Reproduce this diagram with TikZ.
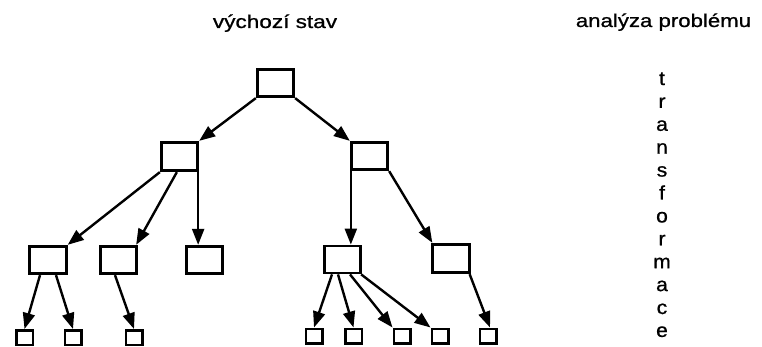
\documentclass[tikz,border=0pt]{standalone}
\usepackage{fontspec}
\setmainfont{Liberation Sans}
\newfontfamily\titlefont[FakeBold=0.8]{Liberation Sans}
\usetikzlibrary{arrows.meta}
\begin{document}
\begin{tikzpicture}[x=1pt,y=-1pt,
  box/.style={draw,line width=2.8pt,rectangle,minimum width=36.5pt,minimum height=27.5pt,inner sep=0pt},
  leaf/.style={draw,line width=2.5pt,rectangle,minimum width=16.5pt,minimum height=14.5pt,inner sep=0pt},
  arr/.style={line width=2.4pt,-{Triangle[length=16pt,width=12pt]}},
  lbl/.style={font=\titlefont\fontsize{18.5}{20}\selectfont,inner sep=0pt,anchor=base},
  vl/.style={font=\titlefont\fontsize{19.5}{21}\selectfont,inner sep=0pt,anchor=base}]
\useasboundingbox (0,0) rectangle (762,347);
% titles
\node[lbl] (t1) at (275,28) {\scalebox{1.22}[1]{výchozí stav}};
\node[lbl] (t2) at (663.5,27) {\scalebox{1.2}[1]{analýza problému}};
% vertical word
\foreach \l [count=\i from 0] in {t,r,a,n,s,f,o,r,m,a,c,e}
  \node[vl] (v\i) at (662,85+22.9*\i) {\scalebox{1.08}[1]{\l}};
% tree nodes
\node[box] (root) at (275.5,83) {};
\node[box,minimum height=28.5pt] (A) at (179.5,156.5) {};
\node[box] (B) at (369.5,156) {};
\node[box] (a) at (48,260) {};
\node[box] (b) at (118.5,260) {};
\node[box] (c) at (204.5,260) {};
\node[box,minimum height=27pt] (d) at (342.5,259.5) {};
\node[box,minimum height=28.5pt] (e) at (451,258.5) {};
\node[leaf] (l1) at (24.5,337.5) {};
\node[leaf] (l2) at (73,337.5) {};
\node[leaf] (l3) at (134,337.5) {};
\node[leaf] (l4) at (314,336) {};
\node[leaf] (l5) at (353.5,336) {};
\node[leaf] (l6) at (402,336) {};
\node[leaf] (l7) at (440,336) {};
\node[leaf] (l8) at (488,336) {};
% connectors
\draw[arr] (root.south west) -- (A.north east);
\draw[arr] (root.south east) -- (B.north west);
\draw[arr] (A.south west) -- (a.north east);
\draw[arr] ([xshift=17pt]A.south west) -- ([xshift=-2pt]b.north east);
\draw[arr] ([xshift=-1pt]A.south east) -- ([xshift=-1pt]A.south east |- c.north);
\draw[arr] ([xshift=1pt]B.south west) -- ([xshift=1pt]B.south west |- d.north);
\draw[arr] (B.south east) -- ([xshift=1pt]e.north west);
\draw[arr] ([xshift=-8pt]a.south) -- (l1.north);
\draw[arr] ([xshift=8pt]a.south) -- (l2.north);
\draw[arr] ([xshift=-3.5pt]b.south) -- (l3.north);
\draw[arr] ([xshift=-10.5pt]d.south) -- (l4.north);
\draw[arr] ([xshift=-4.5pt]d.south) -- (l5.north);
\draw[arr] ([xshift=7.5pt]d.south) -- (l6.north west);
\draw[arr] ([xshift=-1pt]d.south east) -- (l7.north west);
\draw[arr] ([xshift=-1pt]e.south east) -- ([xshift=2pt]l8.north);
\end{tikzpicture}
\end{document}
